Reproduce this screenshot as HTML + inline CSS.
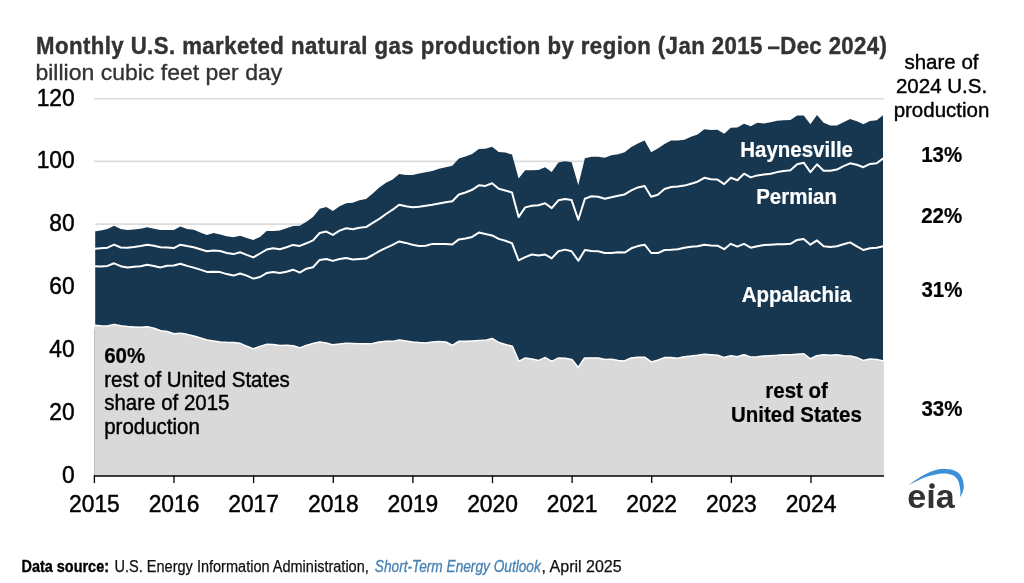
<!DOCTYPE html>
<html>
<head>
<meta charset="utf-8">
<title>Monthly U.S. marketed natural gas production by region</title>
<style>
html, body { margin: 0; padding: 0; background: #ffffff; }
body { width: 1024px; height: 583px; overflow: hidden; font-family: "Liberation Sans", sans-serif; }
svg { display: block; will-change: transform; }
text { font-family: "Liberation Sans", sans-serif; }
.ax { font-size: 22.8px; fill: #000; stroke: #000; stroke-width: 0.45px; }
.t20 { font-size: 20.5px; fill: #000; stroke: #000; stroke-width: 0.4px; }
.b20 { font-size: 20.5px; font-weight: bold; fill: #000; stroke: #000; stroke-width: 0.2px; }
.w20 { font-size: 20.5px; font-weight: bold; fill: #fff; stroke: #fff; stroke-width: 0.2px; }
</style>
</head>
<body>
<svg width="1024" height="583" viewBox="0 0 1024 583">
<rect x="0" y="0" width="1024" height="583" fill="#ffffff"/>

<!-- title -->
<text transform="translate(36,53.7) scale(0.965,1)" font-size="23" font-weight="bold" stroke="#333333" stroke-width="0.4" fill="#333333" textLength="752.8" lengthAdjust="spacing">Monthly U.S. marketed natural gas production by region (Jan 2015</text>
<text transform="translate(767.5,53.7) scale(0.965,1)" font-size="23" font-weight="bold" stroke="#333333" stroke-width="0.4" fill="#333333" textLength="123.8" lengthAdjust="spacing">–Dec 2024)</text>
<text x="35.4" y="80.3" font-size="22.2" fill="#333333" stroke="#333333" stroke-width="0.35" textLength="246.9" lengthAdjust="spacingAndGlyphs">billion cubic feet per day</text>

<!-- gridlines -->
<line x1="94" x2="884" y1="98.8" y2="98.8" stroke="#dbdbdb" stroke-width="1.6"/>
<line x1="94" x2="884" y1="161.4" y2="161.4" stroke="#dbdbdb" stroke-width="1.6"/>
<line x1="94" x2="884" y1="224.1" y2="224.1" stroke="#dbdbdb" stroke-width="1.6"/>
<line x1="94" x2="884" y1="286.8" y2="286.8" stroke="#dbdbdb" stroke-width="1.6"/>
<line x1="94" x2="884" y1="349.5" y2="349.5" stroke="#dbdbdb" stroke-width="1.6"/>
<line x1="94" x2="884" y1="412.2" y2="412.2" stroke="#dbdbdb" stroke-width="1.6"/>

<!-- areas -->
<polygon points="94.2,231.4 100.8,230.5 107.5,229.1 114.1,225.8 120.7,229.1 127.4,229.9 134.0,229.5 140.6,228.7 147.2,227.3 153.9,228.7 160.5,229.9 167.1,230.1 173.8,230.1 180.4,226.4 187.0,229.1 193.7,229.7 200.3,232.4 206.9,235.0 213.6,233.0 220.2,234.4 226.8,236.3 233.5,237.3 240.1,235.7 246.7,237.9 253.3,239.9 260.0,236.9 266.6,231.1 273.2,231.1 279.9,230.6 286.5,228.3 293.1,226.1 299.8,225.7 306.4,221.8 313.0,216.9 319.7,208.7 326.3,207.1 332.9,211.1 339.6,206.2 346.2,203.2 352.8,202.8 359.4,200.3 366.1,198.9 372.7,193.5 379.3,187.6 386.0,182.7 392.6,179.4 399.2,174.1 405.9,175.1 412.5,175.1 419.1,173.5 425.8,172.2 432.4,171.0 439.0,168.7 445.6,167.3 452.3,165.7 458.9,158.5 465.5,156.5 472.2,154.0 478.8,149.1 485.4,148.7 492.1,146.8 498.7,152.0 505.3,152.6 512.0,154.6 518.6,178.4 525.2,170.2 531.9,170.2 538.5,170.0 545.1,167.3 551.7,172.0 558.4,162.4 565.0,161.2 571.6,162.2 578.3,185.0 584.9,158.3 591.5,156.7 598.2,156.7 604.8,157.7 611.4,155.3 618.1,154.2 624.7,152.2 631.3,146.9 637.9,143.4 644.6,140.5 651.2,152.2 657.8,148.5 664.5,144.0 671.1,140.5 677.7,140.5 684.4,139.7 691.0,136.8 697.6,134.6 704.3,129.3 710.9,129.9 717.5,129.7 724.2,133.8 730.8,127.8 737.4,127.4 744.0,123.8 750.7,126.2 757.3,122.8 763.9,123.6 770.6,122.3 777.2,120.7 783.8,120.3 790.5,119.9 797.1,115.4 803.7,115.4 810.4,124.2 817.0,115.0 823.6,122.8 830.3,125.6 836.9,125.6 843.5,122.3 850.1,118.9 856.8,121.3 863.4,124.2 870.0,120.9 876.7,120.3 883.3,115.0 883.3,115.0 883.3,476.0 94.2,476.0" fill="#16374f"/>
<line x1="94.6" x2="94.6" y1="215" y2="330" stroke="#fff" stroke-width="1.2"/>
<line x1="883.6" x2="883.6" y1="105" y2="365" stroke="#fff" stroke-width="1.2"/>
<polyline points="94.2,326.1 100.8,326.5 107.5,326.7 114.1,325.1 120.7,326.5 127.4,327.3 134.0,327.7 140.6,328.0 147.2,327.5 153.9,329.0 160.5,331.4 167.1,332.3 173.8,334.5 180.4,333.9 187.0,335.1 193.7,336.8 200.3,338.8 206.9,340.8 213.6,341.7 220.2,342.7 226.8,343.1 233.5,343.3 240.1,344.1 246.7,347.0 253.3,349.6 260.0,347.2 266.6,345.1 273.2,345.2 279.9,346.2 286.5,346.0 293.1,346.4 299.8,348.6 306.4,346.2 313.0,344.3 319.7,342.7 326.3,343.7 332.9,345.6 339.6,344.7 346.2,344.1 352.8,344.3 359.4,344.5 366.1,344.5 372.7,344.3 379.3,342.7 386.0,341.9 392.6,342.1 399.2,340.8 405.9,341.7 412.5,342.7 419.1,343.3 425.8,343.7 432.4,342.7 439.0,342.3 445.6,342.7 452.3,346.2 458.9,342.1 465.5,342.1 472.2,341.7 478.8,341.3 485.4,341.1 492.1,339.2 498.7,343.3 505.3,345.2 512.0,347.0 518.6,362.3 525.2,358.7 531.9,359.7 538.5,361.3 545.1,358.3 551.7,362.3 558.4,358.7 565.0,358.9 571.6,360.3 578.3,368.7 584.9,358.7 591.5,358.7 598.2,358.7 604.8,360.3 611.4,360.1 618.1,361.3 624.7,361.7 631.3,358.7 637.9,358.0 644.6,358.0 651.2,362.8 657.8,360.9 664.5,358.3 671.1,358.3 677.7,358.9 684.4,357.4 691.0,356.8 697.6,356.0 704.3,355.0 710.9,355.4 717.5,356.0 724.2,358.3 730.8,356.4 737.4,357.4 744.0,355.4 750.7,357.8 757.3,357.4 763.9,356.8 770.6,356.4 777.2,356.0 783.8,355.4 790.5,355.4 797.1,355.0 803.7,354.6 810.4,359.7 817.0,356.4 823.6,355.4 830.3,356.0 836.9,355.4 843.5,356.4 850.1,356.8 856.8,358.3 863.4,361.3 870.0,359.7 876.7,360.3 883.3,361.7" fill="none" stroke="#fff" stroke-width="3" stroke-linejoin="round" stroke-linecap="butt"/>
<polygon points="94.2,326.1 100.8,326.5 107.5,326.7 114.1,325.1 120.7,326.5 127.4,327.3 134.0,327.7 140.6,328.0 147.2,327.5 153.9,329.0 160.5,331.4 167.1,332.3 173.8,334.5 180.4,333.9 187.0,335.1 193.7,336.8 200.3,338.8 206.9,340.8 213.6,341.7 220.2,342.7 226.8,343.1 233.5,343.3 240.1,344.1 246.7,347.0 253.3,349.6 260.0,347.2 266.6,345.1 273.2,345.2 279.9,346.2 286.5,346.0 293.1,346.4 299.8,348.6 306.4,346.2 313.0,344.3 319.7,342.7 326.3,343.7 332.9,345.6 339.6,344.7 346.2,344.1 352.8,344.3 359.4,344.5 366.1,344.5 372.7,344.3 379.3,342.7 386.0,341.9 392.6,342.1 399.2,340.8 405.9,341.7 412.5,342.7 419.1,343.3 425.8,343.7 432.4,342.7 439.0,342.3 445.6,342.7 452.3,346.2 458.9,342.1 465.5,342.1 472.2,341.7 478.8,341.3 485.4,341.1 492.1,339.2 498.7,343.3 505.3,345.2 512.0,347.0 518.6,362.3 525.2,358.7 531.9,359.7 538.5,361.3 545.1,358.3 551.7,362.3 558.4,358.7 565.0,358.9 571.6,360.3 578.3,368.7 584.9,358.7 591.5,358.7 598.2,358.7 604.8,360.3 611.4,360.1 618.1,361.3 624.7,361.7 631.3,358.7 637.9,358.0 644.6,358.0 651.2,362.8 657.8,360.9 664.5,358.3 671.1,358.3 677.7,358.9 684.4,357.4 691.0,356.8 697.6,356.0 704.3,355.0 710.9,355.4 717.5,356.0 724.2,358.3 730.8,356.4 737.4,357.4 744.0,355.4 750.7,357.8 757.3,357.4 763.9,356.8 770.6,356.4 777.2,356.0 783.8,355.4 790.5,355.4 797.1,355.0 803.7,354.6 810.4,359.7 817.0,356.4 823.6,355.4 830.3,356.0 836.9,355.4 843.5,356.4 850.1,356.8 856.8,358.3 863.4,361.3 870.0,359.7 876.7,360.3 883.3,361.7 884.0,361.7 884.0,476.0 94.2,476.0" fill="#d9d9d9"/>
<polyline points="94.2,266.2 100.8,266.4 107.5,265.9 114.1,263.3 120.7,266.2 127.4,267.6 134.0,266.8 140.6,266.2 147.2,264.7 153.9,265.9 160.5,267.4 167.1,265.7 173.8,265.5 180.4,263.7 187.0,265.9 193.7,267.6 200.3,269.6 206.9,271.9 213.6,271.7 220.2,272.1 226.8,274.1 233.5,275.6 240.1,273.5 246.7,275.6 253.3,278.6 260.0,277.0 266.6,273.1 273.2,272.1 279.9,273.0 286.5,271.7 293.1,269.7 299.8,272.6 306.4,268.7 313.0,267.2 319.7,259.9 326.3,259.0 332.9,260.9 339.6,259.0 346.2,258.0 352.8,259.5 359.4,259.0 366.1,258.6 372.7,255.0 379.3,251.1 386.0,247.8 392.6,244.9 399.2,241.4 405.9,242.9 412.5,244.7 419.1,245.9 425.8,245.7 432.4,243.9 439.0,243.9 445.6,243.9 452.3,244.5 458.9,239.4 465.5,238.4 472.2,236.9 478.8,232.6 485.4,234.0 492.1,235.4 498.7,238.9 505.3,240.8 512.0,243.2 518.6,260.4 525.2,257.1 531.9,254.5 538.5,255.5 545.1,254.5 551.7,258.4 558.4,251.2 565.0,249.6 571.6,251.2 578.3,260.8 584.9,250.0 591.5,251.0 598.2,251.2 604.8,253.0 611.4,253.0 618.1,252.2 624.7,252.6 631.3,248.3 637.9,246.1 644.6,244.7 651.2,253.0 657.8,253.1 664.5,250.0 671.1,249.8 677.7,249.3 684.4,247.7 691.0,246.7 697.6,246.3 704.3,244.7 710.9,245.5 717.5,245.7 724.2,249.2 730.8,243.8 737.4,246.7 744.0,243.8 750.7,247.7 757.3,246.3 763.9,245.1 770.6,244.7 777.2,244.3 783.8,244.2 790.5,243.8 797.1,239.9 803.7,238.9 810.4,244.7 817.0,240.4 823.6,246.3 830.3,247.1 836.9,246.3 843.5,244.3 850.1,242.4 856.8,246.3 863.4,250.0 870.0,248.3 876.7,247.7 883.3,246.3" fill="none" stroke="#fff" stroke-width="2" stroke-linejoin="round" stroke-linecap="butt"/>
<polyline points="94.2,248.8 100.8,248.3 107.5,247.7 114.1,244.7 120.7,247.5 127.4,247.7 134.0,247.1 140.6,246.1 147.2,244.7 153.9,245.7 160.5,247.3 167.1,247.5 173.8,248.1 180.4,244.7 187.0,246.1 193.7,247.3 200.3,249.2 206.9,251.2 213.6,250.6 220.2,251.0 226.8,253.0 233.5,254.1 240.1,252.2 246.7,254.9 253.3,257.4 260.0,253.5 266.6,249.6 273.2,248.3 279.9,249.2 286.5,247.2 293.1,244.9 299.8,245.9 306.4,243.3 313.0,240.4 319.7,233.0 326.3,231.6 332.9,234.9 339.6,230.6 346.2,228.3 352.8,229.2 359.4,227.7 366.1,227.1 372.7,222.8 379.3,218.9 386.0,214.0 392.6,209.7 399.2,204.8 405.9,206.2 412.5,207.2 419.1,206.8 425.8,205.8 432.4,204.8 439.0,203.5 445.6,202.3 452.3,201.3 458.9,194.5 465.5,192.5 472.2,189.8 478.8,185.3 485.4,185.9 492.1,183.3 498.7,188.8 505.3,190.5 512.0,192.5 518.6,217.1 525.2,207.4 531.9,205.8 538.5,205.2 545.1,203.3 551.7,208.1 558.4,200.3 565.0,199.0 571.6,200.1 578.3,219.8 584.9,198.7 591.5,196.2 598.2,196.8 604.8,198.7 611.4,197.2 618.1,195.8 624.7,194.4 631.3,190.3 637.9,187.4 644.6,186.0 651.2,196.8 657.8,194.8 664.5,189.0 671.1,187.0 677.7,186.4 684.4,185.6 691.0,183.7 697.6,181.7 704.3,177.8 710.9,179.2 717.5,179.6 724.2,184.1 730.8,177.8 737.4,180.2 744.0,173.7 750.7,177.4 757.3,175.4 763.9,174.5 770.6,173.7 777.2,172.1 783.8,171.1 790.5,170.2 797.1,164.3 803.7,162.7 810.4,172.1 817.0,164.3 823.6,170.7 830.3,170.7 836.9,169.6 843.5,166.2 850.1,163.3 856.8,164.7 863.4,167.2 870.0,163.9 876.7,163.3 883.3,158.4" fill="none" stroke="#fff" stroke-width="2" stroke-linejoin="round" stroke-linecap="butt"/>

<!-- axis -->
<line x1="93.8" x2="884" y1="476.1" y2="476.1" stroke="#000" stroke-width="1.5"/>
<line x1="94.4" x2="94.4" y1="475.5" y2="483.1" stroke="#000" stroke-width="1.3"/>
<line x1="174.0" x2="174.0" y1="475.5" y2="483.1" stroke="#000" stroke-width="1.3"/>
<line x1="253.6" x2="253.6" y1="475.5" y2="483.1" stroke="#000" stroke-width="1.3"/>
<line x1="333.3" x2="333.3" y1="475.5" y2="483.1" stroke="#000" stroke-width="1.3"/>
<line x1="412.9" x2="412.9" y1="475.5" y2="483.1" stroke="#000" stroke-width="1.3"/>
<line x1="492.5" x2="492.5" y1="475.5" y2="483.1" stroke="#000" stroke-width="1.3"/>
<line x1="572.1" x2="572.1" y1="475.5" y2="483.1" stroke="#000" stroke-width="1.3"/>
<line x1="651.7" x2="651.7" y1="475.5" y2="483.1" stroke="#000" stroke-width="1.3"/>
<line x1="731.4" x2="731.4" y1="475.5" y2="483.1" stroke="#000" stroke-width="1.3"/>
<line x1="811.0" x2="811.0" y1="475.5" y2="483.1" stroke="#000" stroke-width="1.3"/>

<text transform="translate(74.7,105.7) scale(1,1.03)" text-anchor="end" class="ax">120</text>
<text transform="translate(74.7,168.4) scale(1,1.03)" text-anchor="end" class="ax">100</text>
<text transform="translate(74.7,231.3) scale(1,1.03)" text-anchor="end" class="ax">80</text>
<text transform="translate(74.7,294.1) scale(1,1.03)" text-anchor="end" class="ax">60</text>
<text transform="translate(74.7,356.9) scale(1,1.03)" text-anchor="end" class="ax">40</text>
<text transform="translate(74.7,419.8) scale(1,1.03)" text-anchor="end" class="ax">20</text>
<text transform="translate(74.7,482.7) scale(1,1.03)" text-anchor="end" class="ax">0</text>

<text transform="translate(94.4,511.5) scale(1,1.03)" text-anchor="middle" class="ax">2015</text>
<text transform="translate(174.0,511.5) scale(1,1.03)" text-anchor="middle" class="ax">2016</text>
<text transform="translate(253.6,511.5) scale(1,1.03)" text-anchor="middle" class="ax">2017</text>
<text transform="translate(333.3,511.5) scale(1,1.03)" text-anchor="middle" class="ax">2018</text>
<text transform="translate(412.9,511.5) scale(1,1.03)" text-anchor="middle" class="ax">2019</text>
<text transform="translate(492.5,511.5) scale(1,1.03)" text-anchor="middle" class="ax">2020</text>
<text transform="translate(572.1,511.5) scale(1,1.03)" text-anchor="middle" class="ax">2021</text>
<text transform="translate(651.7,511.5) scale(1,1.03)" text-anchor="middle" class="ax">2022</text>
<text transform="translate(731.4,511.5) scale(1,1.03)" text-anchor="middle" class="ax">2023</text>
<text transform="translate(811.0,511.5) scale(1,1.03)" text-anchor="middle" class="ax">2024</text>


<!-- in-chart labels -->
<text transform="translate(796.6,156.6) scale(1,1.06)" text-anchor="middle" class="w20">Haynesville</text>
<text transform="translate(796.6,204.3) scale(1,1.06)" text-anchor="middle" class="w20">Permian</text>
<text transform="translate(796.4,302) scale(1,1.06)" text-anchor="middle" class="w20">Appalachia</text>
<text transform="translate(796.6,398.3) scale(1,1.06)" text-anchor="middle" class="b20">rest of</text>
<text transform="translate(796.4,422) scale(1,1.06)" text-anchor="middle" class="b20">United States</text>

<text transform="translate(104.2,363) scale(1,1.06)" class="b20">60%</text>
<text transform="translate(104.2,386.6) scale(1,1.06)" class="t20">rest of United States</text>
<text transform="translate(104.2,410) scale(1,1.06)" class="t20">share of 2015</text>
<text transform="translate(104.2,434) scale(1,1.06)" class="t20">production</text>

<!-- right column -->
<text transform="translate(941.5,69.2) scale(1,1.0)" text-anchor="middle" class="t20">share of</text>
<text transform="translate(941.5,92.6) scale(1,1.0)" text-anchor="middle" class="t20">2024 U.S.</text>
<text transform="translate(941.5,116.6) scale(1,1.0)" text-anchor="middle" class="t20">production</text>
<text transform="translate(941.7,162) scale(1,1.06)" text-anchor="middle" class="b20">13%</text>
<text transform="translate(941.7,222.7) scale(1,1.06)" text-anchor="middle" class="b20">22%</text>
<text transform="translate(941.9,296.7) scale(1,1.06)" text-anchor="middle" class="b20">31%</text>
<text transform="translate(941.9,416.3) scale(1,1.06)" text-anchor="middle" class="b20">33%</text>

<!-- eia logo -->
<g id="eia-logo">
<path d="M908.4 485.3 C914 480.5 921 476.2 926.8 473.4 C933 470.4 940 468.6 945.7 468.9 C950.5 469.1 954.2 470 956.9 471.7 C960.3 473.9 962.2 477.2 963 480.6 C963.7 483.4 963.9 486 963.6 488.4 C963.2 491.6 961.8 494.6 959.7 497.4 C960.4 494.8 960.6 492.2 960.2 489.6 C959.9 486.8 959.4 484.2 958.6 481.8 C957.4 478.8 955.4 476.5 952.4 475.1 C949.8 473.9 946.8 473.3 943.5 473.4 C938.5 473.5 932.5 474.6 926.8 476.7 C920.5 479 914 482 908.4 485.3 Z" fill="#3d8fd8"/>
<text x="907.3" y="508" font-size="32.6" font-weight="bold" fill="#333333" textLength="47.4" lengthAdjust="spacingAndGlyphs">e&#305;a</text>
<circle cx="932" cy="485.9" r="2.75" fill="#333333"/>
</g>

<!-- footer -->
<text x="21.5" y="571.9" font-size="16" font-weight="bold" fill="#000" stroke="#000" stroke-width="0.35" textLength="87.5" lengthAdjust="spacingAndGlyphs">Data source:</text>
<text x="114.6" y="571.9" font-size="16" fill="#111" stroke="#111" stroke-width="0.25" textLength="254.2" lengthAdjust="spacingAndGlyphs">U.S. Energy Information Administration,</text>
<text x="374.8" y="571.9" font-size="16" font-style="italic" fill="#4682b4" stroke="#4682b4" stroke-width="0.3" textLength="166" lengthAdjust="spacingAndGlyphs">Short-Term Energy Outlook</text>
<text x="541.5" y="571.9" font-size="16" fill="#111" stroke="#111" stroke-width="0.25" textLength="80.2" lengthAdjust="spacingAndGlyphs">, April 2025</text>
</svg>
</body>
</html>
